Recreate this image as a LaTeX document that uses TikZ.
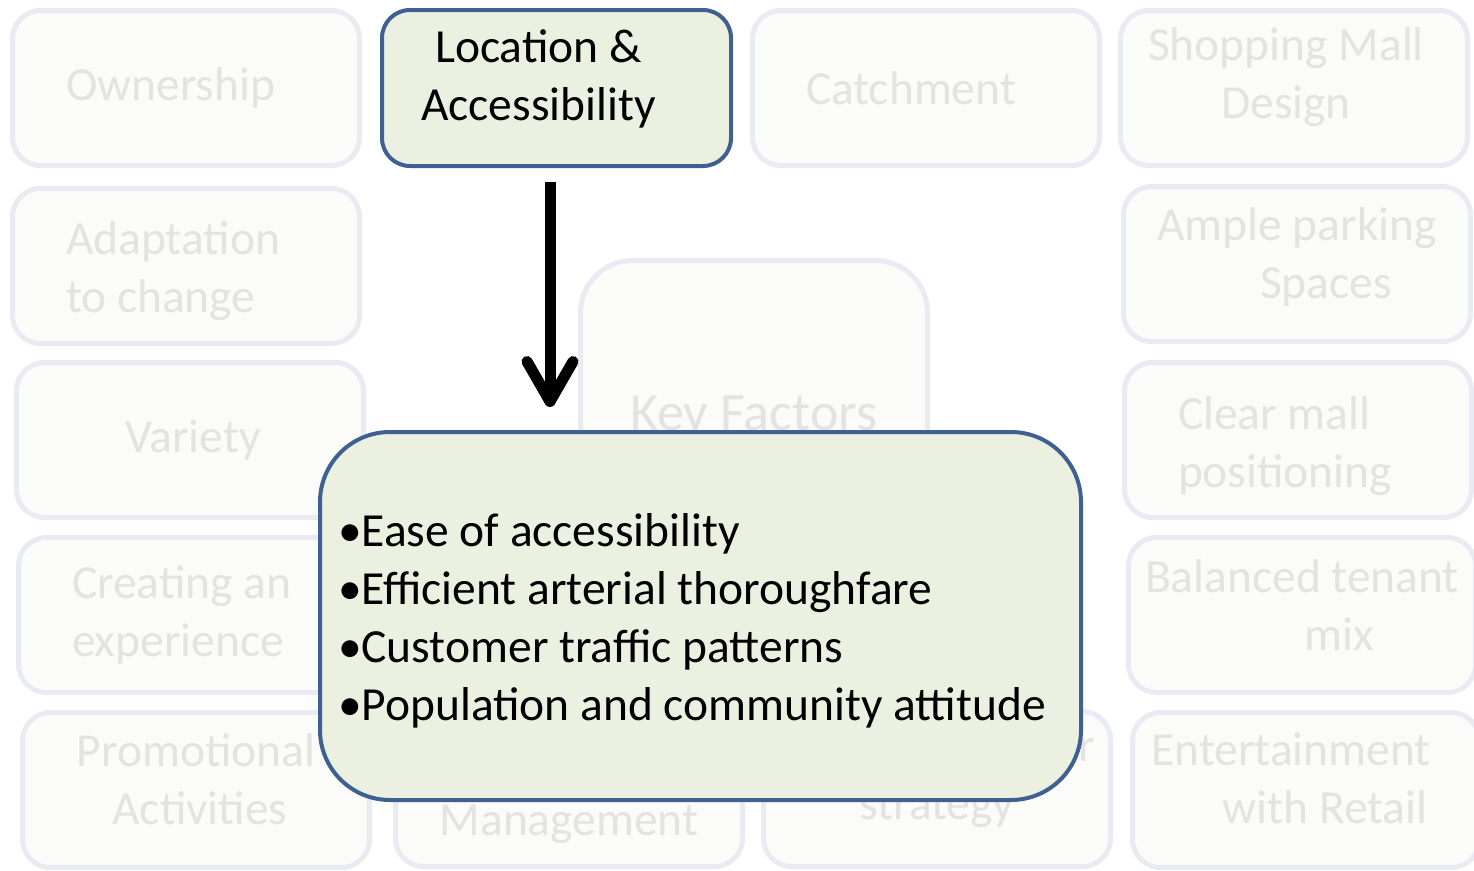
\documentclass[tikz,border=0pt]{standalone}
\usepackage{fontspec}
\setmainfont{Carlito}
\usepackage{tikz}
\usetikzlibrary{arrows.meta, shapes}

\definecolor{fadefill}{HTML}{FBFBF9}
\definecolor{fadeline}{HTML}{E8ECF2}
\definecolor{fadetext}{HTML}{E3E3E3}
\definecolor{keyfill}{HTML}{EBF0E0}
\definecolor{keyline}{HTML}{3E6191}

\begin{document}
\begin{tikzpicture}[x=1pt, y=-1pt]
            \useasboundingbox (0,0) rectangle (1474,870);
            \begin{scope}[every node/.style={rectangle,rounded corners=28pt,draw=fadeline,line width=5pt,fill=fadefill,text=fadetext,
                          minimum width=347pt,minimum height=155pt,align=flush center,font=\fontsize{47.5}{58}\selectfont}]
                \node[text width=240pt, align=flush left] (own) at (186,88) {Ownership};
                \node[text width=240pt, align=flush left] (catch) at (926,88) {Catchment};
                \node[text depth=30pt] (design) at (1294,88) {\hspace*{-16pt}Shopping Mall\\\hspace*{-16pt}Design};
                \node[text width=240pt, align=flush left, text depth=56pt] (adapt) at (186,266) {Adaptation\\to change};
                \node[text depth=22pt] (parking) at (1297,264) {Ample parking\\\hspace*{58pt}Spaces};
                \node (variety) at (190,440) {\hspace*{6pt}Variety};
                \node[text width=240pt, align=flush left, text depth=54pt] (position) at (1298,440) {Clear mall\\positioning};
                \node[text width=240pt, align=flush left] (exper) at (192,615) {Creating an\\experience};
                \node[text depth=20pt] (tenant) at (1302,615) {Balanced tenant\\\hspace*{74pt}mix};
                \node[text depth=22pt] (promo) at (196,790) {Promotional\\\hspace*{8pt}Activities};
                \node[text height=102pt] (manage) at (569,789) {Management};
                \node[text depth=30pt] (follow) at (937,789) {Market Follower\\strategy};
                \node[text depth=24pt] (enter) at (1306,790) {\hspace*{-30pt}Entertainment\\\hspace*{38pt}with Retail};
                \node[rounded corners=52pt, minimum height=315pt, font=\fontsize{54}{66}\selectfont] (factors) at (754,418) {Key Factors};
            \end{scope}

            \begin{scope}[every node/.style={rectangle,draw=keyline,line width=4pt,fill=keyfill,text=black,
                          font=\fontsize{47.5}{58}\selectfont}]
                \node[rounded corners=28pt, minimum width=349pt, minimum height=156pt, align=flush center, text depth=26pt] (loc) at (556.5,88)
                    {\hspace*{-36pt}Location \&\\\hspace*{-36pt}Accessibility};
                \node[rounded corners=70pt, minimum width=761pt, minimum height=368pt, inner xsep=0pt, text width=725pt, align=flush left, text depth=172pt] (main) at (700.5,616)
                    {\textbullet Ease of accessibility\\
                     \textbullet Efficient arterial thoroughfare\\
                     \textbullet Customer traffic patterns\\
                     \textbullet Population and community attitude};
            \end{scope}

            \coordinate (start) at ([xshift=-6.5pt]loc.south);
            \coordinate (stop) at (start |- main.north);
            \begin{scope}[>={Straight Barb[length=40pt,width=46pt,round]},
                          every edge/.style={draw=black, line width=11pt}]
                \path [->] (start) edge[shorten <=14pt, shorten >=23pt] (stop);
            \end{scope}
\end{tikzpicture}
\end{document}
